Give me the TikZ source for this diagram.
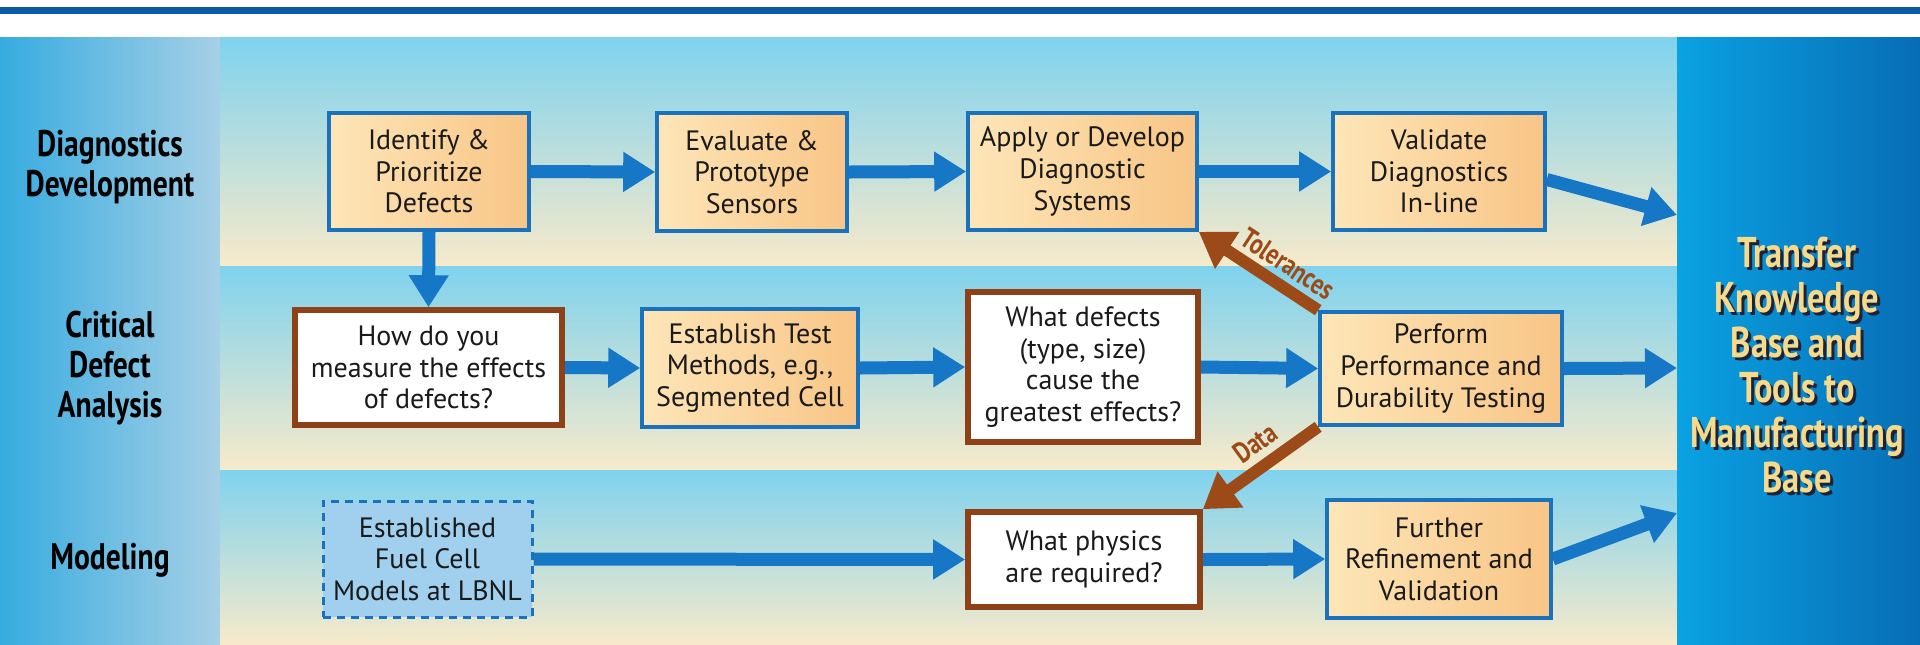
\documentclass[tikz,border=0pt]{standalone}
\usepackage{fontspec}
\setmainfont{PT Sans}
\newfontfamily\condb{PT Sans Bold}[FakeStretch=0.8]
\usetikzlibrary{arrows.meta,calc}
\pgfdeclarelayer{bg}
\pgfdeclarelayer{mid}
\pgfsetlayers{bg,mid,main}
\definecolor{topblue}{HTML}{0B5AA7}
\definecolor{colL}{HTML}{36ABE0}
\definecolor{colR}{HTML}{A6D0E6}
\definecolor{bandtop}{HTML}{7FD2EE}
\definecolor{bandbot}{HTML}{F7EACB}
\definecolor{trL}{HTML}{0AA2E2}
\definecolor{trR}{HTML}{076DB6}
\definecolor{boxblue}{HTML}{1A72BC}
\definecolor{arrblue}{HTML}{1577C6}
\definecolor{orL}{HTML}{FDE6B8}
\definecolor{orR}{HTML}{F8C586}
\definecolor{brownb}{HTML}{8E4016}
\definecolor{brownarr}{HTML}{9C4A18}
\definecolor{lblue}{HTML}{A0D0EE}
\definecolor{txt}{HTML}{1A1A1A}
\definecolor{gold}{HTML}{F6DA8C}
\definecolor{shadowc}{HTML}{1E2236}
\begin{document}
\begin{tikzpicture}[x=0.5pt,y=-0.5pt,
  boxtext/.style={inner sep=0pt, align=center, text=txt, font=\fontsize{14}{15.8}\selectfont},
  obox/.style={boxtext, draw=boxblue, line width=1.8pt, left color=orL, right color=orR},
  qbox/.style={boxtext, draw=brownb, line width=2.8pt, fill=white},
  dbox/.style={boxtext, draw=boxblue, line width=1.5pt, dash pattern=on 4pt off 3pt, fill=lblue},
  rowlab/.style={align=center, text=black, font=\condb\fontsize{18.5}{19.8}\selectfont},
  barrow/.style={draw=arrblue, line width=6.5pt, -{Triangle[length=16pt,width=19pt]}},
  brarrow/.style={draw=brownarr, line width=6pt, -{Triangle[length=17pt,width=21pt]}},
  arrlab/.style={text=brownarr, font=\condb\fontsize{14.5}{15}\selectfont, inner sep=0pt}
]
\useasboundingbox (0,0) rectangle (1920,644);
\begin{pgfonlayer}{bg}
\fill[white] (0,0) rectangle (1920,644);
\fill[topblue] (0,7) rectangle (1920,14);
\shade[left color=colL, right color=colR] (0,37) rectangle (220,266);
\shade[left color=colL, right color=colR] (0,266) rectangle (220,470);
\shade[left color=colL, right color=colR] (0,470) rectangle (220,644);
\shade[top color=bandtop, bottom color=bandbot] (220,37) rectangle (1677,266);
\shade[top color=bandtop, bottom color=bandbot] (220,266) rectangle (1677,470);
\shade[top color=bandtop, bottom color=bandbot] (220,470) rectangle (1677,644);
\end{pgfonlayer}

% right box
\node[inner sep=0pt, minimum width=121.5pt, minimum height=303.5pt, left color=trL, right color=trR] (tr) at (1798.5,340.5) {};
\node[align=center, text=shadowc, font=\condb\fontsize{21.5}{22.5}\selectfont] (trs) at (1800,368) {Transfer\\Knowledge\\Base and\\Tools to\\Manufacturing\\Base};
\node[align=center, text=gold, font=\condb\fontsize{21.5}{22.5}\selectfont] (trt) at (1797,365) {Transfer\\Knowledge\\Base and\\Tools to\\Manufacturing\\Base};

% row labels
\node[rowlab] (l1) at (110,167) {Diagnostics\\Development};
\node[rowlab] (l2) at (110,368) {Critical\\Defect\\Analysis};
\node[rowlab] (l3) at (110,560) {Modeling};

% row 1
\node[obox, minimum width=100pt, minimum height=58.5pt] (id) at (429,171.5) {Identify \&\\Prioritize\\Defects};
\node[obox, minimum width=95pt, minimum height=59pt] (ev) at (752,172) {Evaluate \&\\Prototype\\Sensors};
\node[obox, minimum width=114.5pt, minimum height=58.5pt] (ap) at (1082.5,171.5) {Apply or Develop\\Diagnostic\\Systems};
\node[obox, minimum width=106pt, minimum height=58.5pt] (va) at (1439,171.5) {Validate\\Diagnostics\\In-line};

% row 2
\node[qbox, minimum width=133.5pt, minimum height=57.5pt] (how) at (428.5,367.5) {How do you\\measure the effects\\of defects?};
\node[obox, minimum width=108pt, minimum height=59pt] (es) at (750,368) {Establish Test\\Methods, e.g.,\\Segmented Cell};
\node[qbox, minimum width=115pt, minimum height=75pt] (wd) at (1083,367) {What defects\\(type, size)\\cause the\\greatest effects?};
\node[obox, minimum width=121pt, minimum height=56.5pt] (pe) at (1441,368.5) {Perform\\Performance and\\Durability Testing};

% row 3
\node[dbox, minimum width=104.5pt, minimum height=58pt] (fu) at (427.5,559) {Established\\Fuel Cell\\Models at LBNL};
\node[qbox, minimum width=116pt, minimum height=47.5pt] (wp) at (1084,559.5) {What physics\\are required?};
\node[obox, minimum width=112pt, minimum height=59pt] (fr) at (1439,559) {Further\\Refinement and\\Validation};

\coordinate (t1) at (1677,215);
\coordinate (t2) at (1677,368);
\coordinate (t3) at (1677,513);
\coordinate (vaout) at ($(va.east)+(0,8)$);

\begin{pgfonlayer}{mid}
\draw[barrow] (id.east) -- (ev.west);
\draw[barrow] (ev.east) -- (ap.west);
\draw[barrow] (ap.east) -- (va.west);
\draw[barrow] (vaout) -- (t1);
\draw[barrow] (id.south) -- (how.north);
\draw[barrow] (how.east) -- (es.west);
\draw[barrow] (es.east) -- (wd.west);
\draw[barrow] (wd.east) -- (pe.west);
\draw[barrow] (pe.east) -- (t2);
\draw[barrow] (fu.east) -- (wp.west);
\draw[barrow] (wp.east) -- (fr.west);
\draw[barrow] (fr.east) -- (t3);
\draw[brarrow] (pe.north west) -- (ap.south east);
\draw[brarrow] (pe.south west) -- (wp.north east);
\end{pgfonlayer}
\node[arrlab, rotate=-33.3] (tol) at (1288,264) {Tolerances};
\node[arrlab, rotate=36] (dat) at (1255,443) {Data};
\end{tikzpicture}
\end{document}
